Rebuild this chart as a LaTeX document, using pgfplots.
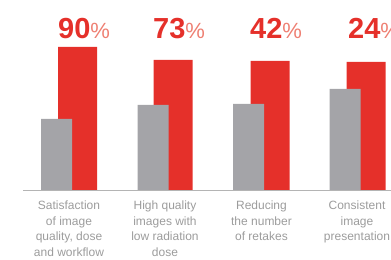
\documentclass[border=0pt]{standalone}
\usepackage{pgfplots}
\pgfplotsset{compat=1.18}
\usepackage{fontspec}
\setmainfont{Liberation Sans}
\definecolor{barred}{HTML}{E5302A}
\definecolor{bargray}{HTML}{A4A4A8}
\definecolor{lblgray}{HTML}{9C9C9C}
\definecolor{pctred}{HTML}{EE7F72}
\definecolor{axgray}{HTML}{B4B4B4}
\begin{document}
\begin{tikzpicture}
\begin{axis}[
  scale only axis, width=391bp, height=260bp,
  xmin=0, xmax=391, ymin=-69, ymax=191,
  hide axis, clip=false,
  ybar, bar shift=0pt,
]
% red bars (behind)
\addplot[fill=barred, draw=none, bar width=39] coordinates {(77.5,144) (173,131) (270,130) (366,129)};
% gray bars (in front)
\addplot[fill=bargray, draw=none, bar width=31] coordinates {(56.5,72) (153,86) (248.5,87) (345,102)};
% baseline
\addplot[sharp plot, draw=axgray, line width=1bp] coordinates {(23,0) (391,0)};
% percentage labels
\foreach \xx/\vv in {58/90, 153/73, 250/42, 348/24}{
  \edef\tmp{\noexpand\node[anchor=base west, inner sep=0pt] at (axis cs:\xx,153)
    {\noexpand\fontsize{29bp}{30bp}\noexpand\selectfont\noexpand\bfseries\noexpand\color{barred}\vv\noexpand\fontsize{22bp}{22bp}\noexpand\selectfont\noexpand\mdseries\noexpand\color{pctred}\noexpand\%};}
  \tmp
}
% category labels
\node[anchor=north, inner sep=0pt, align=center, text=lblgray, font=\fontsize{12bp}{15.5bp}\selectfont] at (axis cs:69,-10) {Satisfaction\\of image\\quality, dose\\and workflow};
\node[anchor=north, inner sep=0pt, align=center, text=lblgray, font=\fontsize{12bp}{15.5bp}\selectfont] at (axis cs:165,-10) {High quality\\images with\\low radiation\\dose};
\node[anchor=north, inner sep=0pt, align=center, text=lblgray, font=\fontsize{12bp}{15.5bp}\selectfont] at (axis cs:261.5,-10) {Reducing\\the number\\of retakes};
\node[anchor=north, inner sep=0pt, align=center, text=lblgray, font=\fontsize{12bp}{15.5bp}\selectfont] at (axis cs:357,-10) {Consistent\\image\\presentation};
\end{axis}
\pgfresetboundingbox
\path[use as bounding box] (current axis.south west) rectangle (current axis.north east);
\end{tikzpicture}
\end{document}
